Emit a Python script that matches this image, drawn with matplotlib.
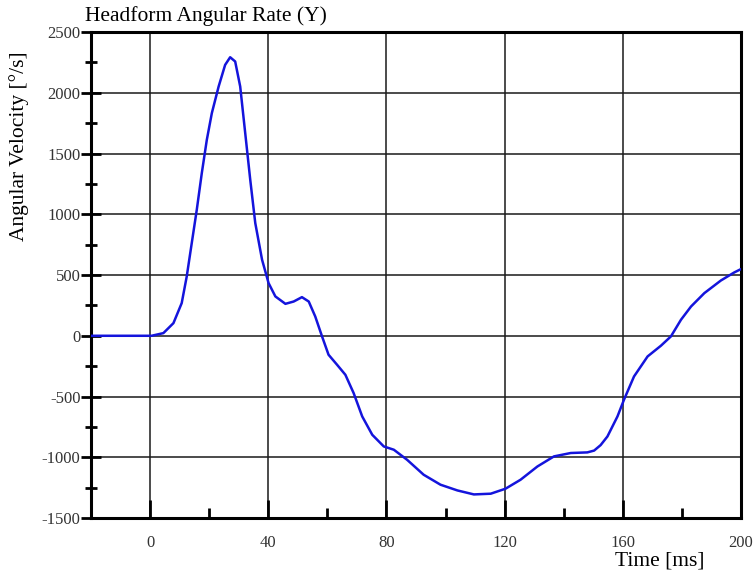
import matplotlib.pyplot as plt
from matplotlib.ticker import MultipleLocator

# values
time_ms = [-20, -10, 0, 0.5, 4.5, 7.9, 10.7, 12.4, 14.1, 15.8, 17.5, 19.2, 20.9,
           23.2, 25.4, 27.1, 28.8, 30.5, 32.2, 33.9, 35.6, 37.9, 40.1, 42.4, 45.8,
           48.6, 51.4, 53.7, 55.9, 58.2, 60.4, 63.3, 66.1, 68.9, 71.8, 75.2, 79.1,
           82.5, 87.0, 92.6, 98.3, 104.0, 109.6, 115.3, 120.3, 125.4, 131.1, 136.7,
           142.4, 148.0, 150.3, 152.5, 154.8, 158.2, 160.4, 163.8, 168.4, 172.9,
           176.3, 179.7, 183.1, 187.6, 193.2, 197.7, 200.0]
ang_vel = [0, 0, 0, 0, 22, 104, 269, 488, 763, 1037, 1339, 1613, 1833,
           2052, 2230, 2293, 2258, 2052, 1668, 1284, 928, 626, 434, 324, 263,
           282, 318, 282, 159, -5, -156, -239, -321, -472, -664, -815, -911,
           -938, -1021, -1144, -1226, -1273, -1306, -1300, -1259, -1185, -1076, -993,
           -965, -960, -945, -900, -829, -664, -527, -335, -170, -82,
           -5, 132, 241, 351, 455, 521, 549]

x_major = [0, 40, 80, 120, 160, 200]

plt.rcParams['font.family'] = ['Liberation Serif', 'DejaVu Serif']
plt.rcParams['axes.unicode_minus'] = False

fig = plt.figure(figsize=(7.54, 5.73), dpi=100)
ax = fig.add_axes([0.1207, 0.096, 0.862, 0.848])

ax.plot(time_ms, ang_vel, color='#1414dc', lw=1.8, zorder=3,
        solid_joinstyle='round', solid_capstyle='round')

ax.set_xlim(-20, 200)
ax.set_ylim(-1500, 2500)
ax.set_xticks(x_major)
ax.xaxis.set_minor_locator(MultipleLocator(20))
ax.yaxis.set_major_locator(MultipleLocator(500))
ax.yaxis.set_minor_locator(MultipleLocator(250))

ax.grid(True, which='major', color='#1a1a1a', lw=1.1)
for s in ax.spines.values():
    s.set_linewidth(2.2)
    s.set_color('black')

ax.tick_params(axis='x', which='major', direction='in', length=13, width=2,
               labelsize=12, pad=12, labelcolor='#333333')
ax.tick_params(axis='x', which='minor', direction='in', length=7, width=2)
ax.tick_params(axis='y', which='major', direction='inout', length=15, width=2,
               labelsize=12, pad=0, labelcolor='#333333')
ax.tick_params(axis='y', which='minor', direction='inout', length=8, width=2)

fig.text(0.113, 0.955, 'Headform Angular Rate (Y)', fontsize=15.5, ha='left', va='bottom')
fig.text(0.935, 0.004, 'Time [ms]', fontsize=15.5, ha='right', va='bottom')
fig.text(0.012, 0.745, 'Angular Velocity [°/s]', fontsize=15.5, rotation=90,
         ha='left', va='center')

fig.savefig('out.png', dpi=100)
